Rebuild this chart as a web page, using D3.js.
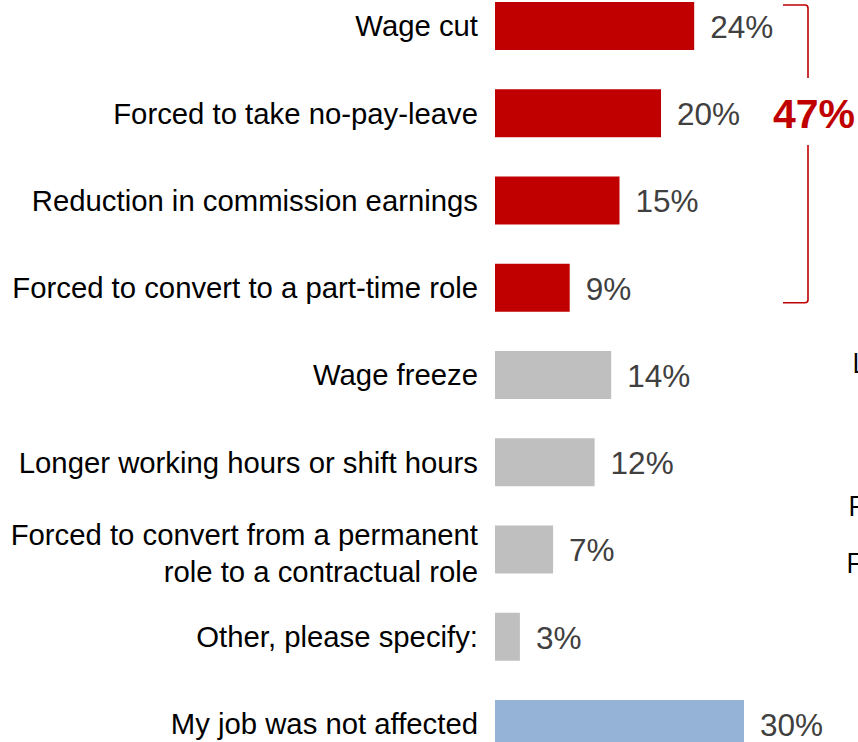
<!DOCTYPE html>
<html>
<head>
<meta charset="utf-8">
<script src="https://cdn.jsdelivr.net/npm/d3@7"></script>
<style>
  html, body { margin: 0; padding: 0; background: #ffffff; }
  svg { display: block; }
</style>
</head>
<body>
<svg id="chart" width="858" height="742"></svg>
<script>
// Impact of the downturn on respondents' jobs (% of respondents)
const categories = [
  ["Wage cut"],
  ["Forced to take no-pay-leave"],
  ["Reduction in commission earnings"],
  ["Forced to convert to a part-time role"],
  ["Wage freeze"],
  ["Longer working hours or shift hours"],
  ["Forced to convert from a permanent", "role to a contractual role"],
  ["Other, please specify:"],
  ["My job was not affected"]
];
const values = [24, 20, 15, 9, 14, 12, 7, 3, 30];
const groups = ["pay", "pay", "pay", "pay", "other", "other", "other", "other", "none"];
const groupColors = { pay: "#C00000", other: "#BFBFBF", none: "#95B3D7" };

// Net share of respondents reporting any pay-related impact
const bracketRows = [0, 3];
const bracketLabel = "47%";

// Leading letters of the neighbouring panel's labels, cut off at the edge
const sideLetters = ["L", "F", "F"];

const svg = d3.select("#chart");

const step = 87.25, pad = 0.45;
const x = d3.scaleLinear().domain([0, 30]).range([495, 744]);
const y = d3.scaleBand()
  .domain(d3.range(categories.length))
  .range([2, 2 + step * (categories.length - pad)])
  .paddingInner(pad)
  .paddingOuter(0);

const bw = y.bandwidth();
const labelFont = "'Liberation Sans', Arial, Helvetica, sans-serif";

// Bars
svg.append("g").selectAll("rect")
  .data(values)
  .join("rect")
  .attr("x", x(0))
  .attr("y", (d, i) => y(i))
  .attr("width", d => x(d) - x(0))
  .attr("height", bw)
  .attr("fill", (d, i) => groupColors[groups[i]]);

// Category labels
const cat = svg.append("g")
  .attr("font-family", labelFont)
  .attr("font-size", 29.3)
  .attr("fill", "#000000")
  .attr("text-anchor", "end");

categories.forEach((lines, i) => {
  const cy = y(i) + bw / 2;
  const t = cat.append("text").attr("x", 478);
  if (lines.length === 1) {
    t.attr("y", cy + 10.5).text(lines[0]);
  } else {
    lines.forEach((ln, j) => {
      t.append("tspan")
        .attr("x", 478)
        .attr("y", cy - 4.5 + j * 37)
        .text(ln);
    });
  }
});

// Value labels
svg.append("g")
  .attr("font-family", labelFont)
  .attr("font-size", 31.5)
  .attr("fill", "#404040")
  .selectAll("text")
  .data(values)
  .join("text")
  .attr("x", d => x(d) + 16)
  .attr("y", (d, i) => y(i) + bw / 2 + 12)
  .text(d => d + "%");

// Bracket grouping the pay-related rows
const bx = 808, bl = 783, r = 3;
const yTop = y(bracketRows[0]) + 3;
const yBot = y(bracketRows[1]) + bw - 9;
const gapTop = 78, gapBot = 145;

const bracket = svg.append("g")
  .attr("fill", "none")
  .attr("stroke", "#C00000")
  .attr("stroke-width", 1.6);

const p1 = d3.path();
p1.moveTo(bl, yTop);
p1.lineTo(bx - r, yTop);
p1.quadraticCurveTo(bx, yTop, bx, yTop + r);
p1.lineTo(bx, gapTop);
bracket.append("path").attr("d", p1.toString());

const p2 = d3.path();
p2.moveTo(bx, gapBot);
p2.lineTo(bx, yBot - r);
p2.quadraticCurveTo(bx, yBot, bx - r, yBot);
p2.lineTo(bl, yBot);
bracket.append("path").attr("d", p2.toString());

svg.append("text")
  .attr("x", 814)
  .attr("y", 128)
  .attr("text-anchor", "middle")
  .attr("font-family", labelFont)
  .attr("font-weight", "bold")
  .attr("font-size", 41)
  .attr("fill", "#C00000")
  .text(bracketLabel);

// Neighbouring panel labels (clipped at the right edge)
const sideX = [852, 848, 846];
const sideBase = [373, 516, 573];
svg.append("g")
  .attr("font-family", "'Open Sans', 'Noto Sans', sans-serif")
  .attr("font-size", 28)
  .attr("fill", "#000000")
  .selectAll("text")
  .data(sideLetters)
  .join("text")
  .attr("x", (d, i) => sideX[i])
  .attr("y", (d, i) => sideBase[i])
  .text(d => d);
</script>
</body>
</html>
